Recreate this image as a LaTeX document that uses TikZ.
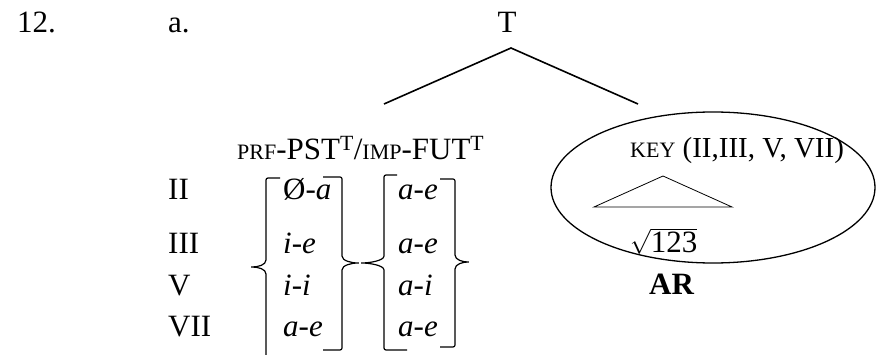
\documentclass[tikz,border=0pt]{standalone}
\usepackage{amsmath}
\usepackage{fontspec}
\setmainfont{Liberation Serif}
\usepackage{tikz}
\usetikzlibrary{shapes.geometric}
\usetikzlibrary{positioning}
\tikzset{
  Txt/.style={anchor=base west, inner sep=0pt, font=\fontsize{31}{36}\selectfont}, % Grundtext
  Ast/.style={line width=1.6pt}, % Baumkanten
  Klammer/.style={line width=1.2pt, rounded corners=2pt}, % eckige Klammern
  Oval/.style={draw, ellipse, line width=1.3pt, inner sep=0pt}
}
\newcommand{\kap}[1]{{\fontsize{22}{26}\selectfont #1}} % Kapitaelchen-Ersatz

\begin{document}
\begin{tikzpicture}[x=1pt, y=-1pt]
\useasboundingbox (0,0) rectangle (876,355);

%Kopf
\node[Txt] (nr) at (17,33) {12.};
\node[Txt] (bsp) at (168,33) {a.};
\node[Txt, anchor=base] (T) at (507,33) {T};

%Baum
\coordinate (Tfuss) at (511,48);
\coordinate (links) at (384,104);
\coordinate (rechts) at (638,104);
\draw[Ast] (links) -- (Tfuss) -- (rechts);

%Paradigma
\node[Txt] (kopf) at (237,160) {\kap{PRF}-PST\textsuperscript{T}/\kap{IMP}-FUT\textsuperscript{T}};

\node[Txt] (r2) at (168,200) {II};
\node[Txt] (r3) at (168,254) {III};
\node[Txt] (r5) at (168,296) {V};
\node[Txt] (r7) at (168,337) {VII};

\node[Txt] (pa2) at (283,200) {Ø-\textit{a}};
\node[Txt] (pa3) at (283,254) {\textit{i-e}};
\node[Txt] (pa5) at (283,296) {\textit{i-i}};
\node[Txt] (pa7) at (283,337) {\textit{a-e}};

\node[Txt] (pb2) at (398,200) {\textit{a-e}};
\node[Txt] (pb3) at (398,254) {\textit{a-e}};
\node[Txt] (pb5) at (398,296) {\textit{a-i}};
\node[Txt] (pb7) at (398,337) {\textit{a-e}};

%Klammern
\draw[Klammer] (280,178) -- (266,178) -- (266,258)
  .. controls (266,265) and (258,267) .. (250,267)
  .. controls (258,267) and (266,269) .. (266,276) -- (266,355);
\draw[Klammer] (323,177) -- (342,177) -- (342,254)
  .. controls (342,261) and (352,263) .. (360,263)
  .. controls (352,263) and (342,265) .. (342,272) -- (342,350) -- (323,350);
\draw[Klammer] (397,175) -- (384,175) -- (384,254)
  .. controls (384,261) and (368,263) .. (360,263)
  .. controls (368,263) and (384,265) .. (384,272) -- (384,350) -- (407,350);
\draw[Klammer] (440,179) -- (455,179) -- (455,253)
  .. controls (455,260) and (463,262) .. (470,262)
  .. controls (463,262) and (455,264) .. (455,271) -- (455,347) -- (440,347);

%Schluessel
\node[Oval, minimum width=324pt, minimum height=151pt] (oval) at (713,187.5) {};
\node[Txt, font=\fontsize{29}{34}\selectfont] (key) at (630,158) {\kap{KEY} (II,III, V, VII)};
\coordinate (dspitze) at (663,176);
\coordinate (dlinks) at (594,207);
\coordinate (drechts) at (732,207);
\draw[line width=0.8pt] (dlinks) -- (dspitze) -- (drechts) -- cycle;
\node[Txt] (wurzel) at (630,253) {$\sqrt{\text{123}}$};
\node[Txt] (ar) at (649,295) {\textbf{AR}};

\end{tikzpicture}
\end{document}
